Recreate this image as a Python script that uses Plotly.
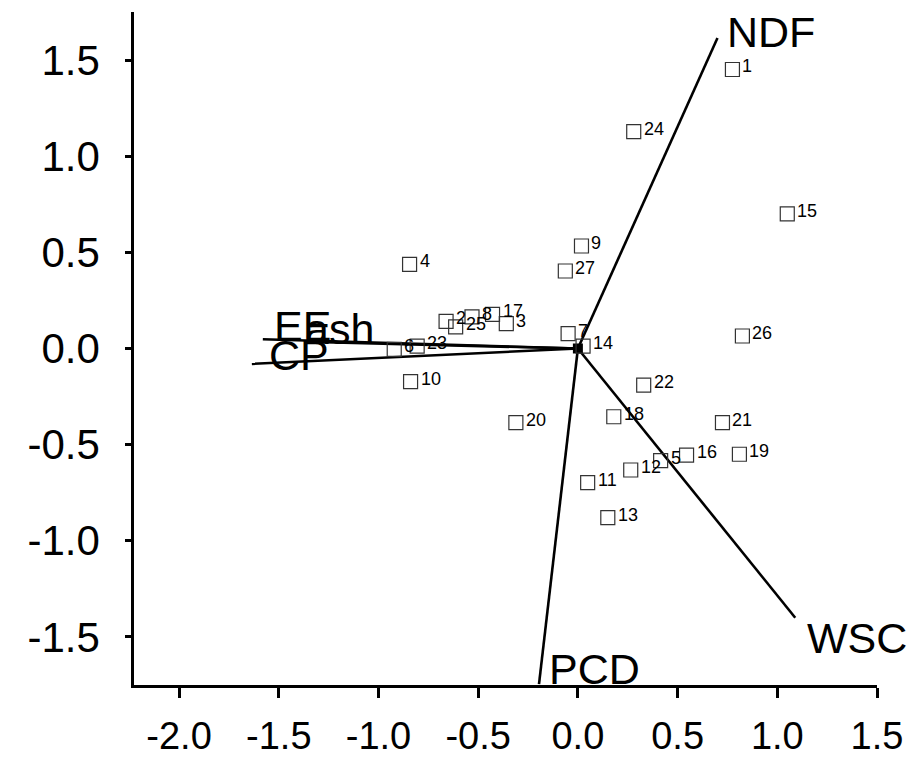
import plotly.graph_objects as go

# sample scores (site scores)
sample_ids = ["1", "2", "3", "4", "5", "6", "7", "8", "9", "10", "11", "12", "13", "14",
              "15", "16", "17", "18", "19", "20", "21", "22", "23", "24", "25", "26", "27"]
sample_x = [0.775, -0.661, -0.359, -0.844, 0.415, -0.921, -0.049, -0.531, 0.018, -0.839,
            0.049, 0.265, 0.150, 0.026, 1.050, 0.545, -0.428, 0.180, 0.810, -0.311,
            0.725, 0.330, -0.806, 0.280, -0.613, 0.825, -0.063]
sample_y = [1.451, 0.141, 0.129, 0.437, -0.583, -0.005, 0.077, 0.164, 0.533, -0.172,
            -0.698, -0.632, -0.880, 0.012, 0.700, -0.554, 0.177, -0.355, -0.550, -0.385,
            -0.385, -0.190, 0.012, 1.128, 0.112, 0.065, 0.403]

# variable vectors (biplot arrows)
var_names = ["NDF", "WSC", "PCD", "CP", "EE", "ash"]
var_x = [0.700, 1.090, -0.195, -1.635, -1.580, -1.370]
var_y = [1.615, -1.400, -1.745, -0.080, 0.048, 0.035]
# label anchor (left edge, vertical middle) for each vector name
lab_x = [0.740, 1.140, -0.155, -1.560, -1.535, -1.380]
lab_y = [1.648, -1.505, -1.665, -0.036, 0.118, 0.100]

x_ticks = [-2.0, -1.5, -1.0, -0.5, 0.0, 0.5, 1.0, 1.5]
y_ticks = [-1.5, -1.0, -0.5, 0.0, 0.5, 1.0, 1.5]

FONT = "Liberation Sans, Arial, Helvetica, sans-serif"

fig = go.Figure()

for vx, vy in zip(var_x, var_y):
    fig.add_trace(go.Scatter(x=[0, vx], y=[0, vy], mode="lines",
                             line=dict(color="black", width=2.6),
                             hoverinfo="skip", showlegend=False))

fig.add_trace(go.Scatter(x=[0], y=[0], mode="markers",
                         marker=dict(symbol="square", size=10, color="black"),
                         showlegend=False))

fig.add_trace(go.Scatter(x=sample_x, y=sample_y, mode="markers",
                         marker=dict(symbol="square-open", size=14, color="#333333",
                                     line=dict(width=1.2, color="#333333")),
                         text=sample_ids, showlegend=False))

for sx, sy, sid in zip(sample_x, sample_y, sample_ids):
    fig.add_annotation(x=sx, y=sy, text=sid, showarrow=False, xanchor="left",
                       yanchor="middle", xshift=8, yshift=3,
                       font=dict(family=FONT, size=18, color="black"))

for name, lx, ly in zip(var_names, lab_x, lab_y):
    fig.add_annotation(x=lx, y=ly, text=name, showarrow=False, xanchor="left",
                       yanchor="middle", font=dict(family=FONT, size=43, color="black"))

fig.update_layout(
    width=923, height=768,
    margin=dict(l=126, r=54, t=4, b=91),
    plot_bgcolor="white", paper_bgcolor="white",
    font=dict(family=FONT, color="black"),
    xaxis=dict(range=[-2.226, 1.5], tickvals=x_ticks,
               ticktext=[f"{v:.1f}" for v in x_ticks],
               showline=True, linecolor="black", linewidth=2.5,
               ticks="outside", ticklen=10, tickwidth=2.5, tickcolor="black",
               showgrid=False, zeroline=False, tickfont=dict(size=38, family=FONT),
               ticklabelstandoff=6, automargin=False),
    yaxis=dict(range=[-1.75, 1.75], tickvals=y_ticks,
               ticktext=[f"{v:.1f}" for v in y_ticks],
               showline=True, linecolor="black", linewidth=2.5,
               ticks="outside", ticklen=6, tickwidth=2.5, tickcolor="black",
               showgrid=False, zeroline=False, tickfont=dict(size=42, family=FONT),
               ticklabelstandoff=17, automargin=False),
)

fig.write_html("out.html")
